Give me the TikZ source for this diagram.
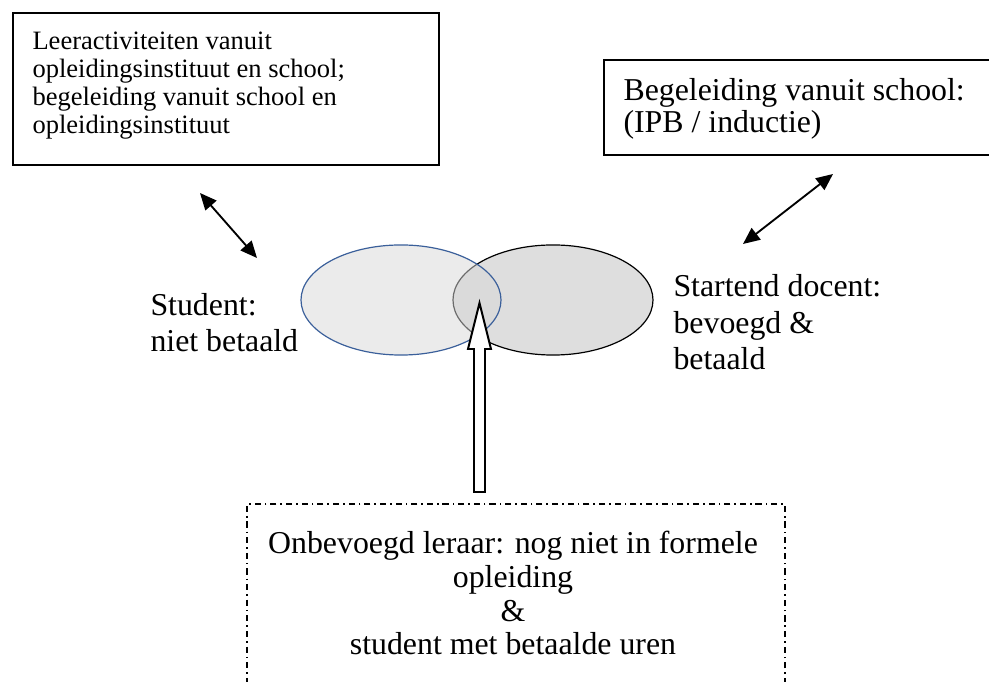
\documentclass[tikz,border=0pt]{standalone}
\usepackage{fontspec}
\setmainfont{Liberation Serif}
\usetikzlibrary{arrows.meta,shapes.geometric}
\definecolor{leftfill}{HTML}{D7D7D7}
\definecolor{rightfill}{HTML}{DEDEDE}
\definecolor{leftline}{HTML}{3A5F9A}
\begin{document}
\begin{tikzpicture}[x=0.377pt,y=-0.377pt,
  box/.style={draw, line width=0.75pt, rectangle, inner sep=0pt, anchor=north west},
  dashbox/.style={box, dash pattern=on 2.3pt off 1.5pt on 0.6pt off 1.5pt},
  lbl/.style={inner sep=0pt, align=left, anchor=base west},
  smallfont/.style={font=\fontsize{10pt}{10.56pt}\selectfont},
  dbl/.style={line width=0.7pt, {Triangle[length=6.3pt,width=5.5pt]}-{Triangle[length=6.3pt,width=5.5pt]}},
  ell/.style={ellipse, minimum width=75.4pt, minimum height=41.5pt, inner sep=0pt, line width=0.45pt}]
\useasboundingbox (0,0) rectangle (989,682);
\clip (0,0) rectangle (989,682);
% boxes
\node[box, minimum width=160.6pt, minimum height=57.3pt] (boxL) at (12,12) {};
\node[box, minimum width=146.7pt, minimum height=35.8pt] (boxR) at (603,59) {};
\node[dashbox, minimum width=202.8pt, minimum height=71.6pt] (boxB) at (246,503) {};
% texts (anchored at the baseline of their last line)
\node[lbl, smallfont] (tL) at (32,134) {Leeractiviteiten vanuit\\opleidingsinstituut en school;\\begeleiding vanuit school en\\opleidingsinstituut};
\node[lbl, font=\fontsize{12pt}{12.4pt}\selectfont] (tR) at (623,133) {Begeleiding vanuit school:\\(IPB / inductie)};
\node[lbl, font=\fontsize{12pt}{13.9pt}\selectfont] (tS) at (150,352) {Student:\\niet betaald};
\node[lbl, font=\fontsize{12pt}{13.8pt}\selectfont] (tD) at (673,370) {Startend docent:\\bevoegd \&\\betaald};
\node[inner sep=0pt, align=center, anchor=base, font=\fontsize{12pt}{12.8pt}\selectfont] (tB) at (513,655) {Onbevoegd leraar: nog niet in formele\\opleiding\\\&\\student met betaalde uren};
% ellipses
\node[ell, draw=black, fill=rightfill] (startend) at (553,300) {};
\node[ell, draw=leftline, fill=leftfill, fill opacity=0.5] (student) at (401,300) {};
% block arrow
\coordinate (tip) at (479.5,303);
\draw[line width=0.75pt, fill=white, line join=miter]
  (tip) -- (491,349) -- (485,349) -- (485,492) -- (474,492) -- (474,349) -- (468,349) -- cycle;
% double arrows
\coordinate (a1) at (200,193);
\coordinate (a2) at (257,258);
\coordinate (b1) at (743,244);
\coordinate (b2) at (833,174);
\draw[dbl] (a1) -- (a2);
\draw[dbl] (b1) -- (b2);
\end{tikzpicture}
\end{document}
